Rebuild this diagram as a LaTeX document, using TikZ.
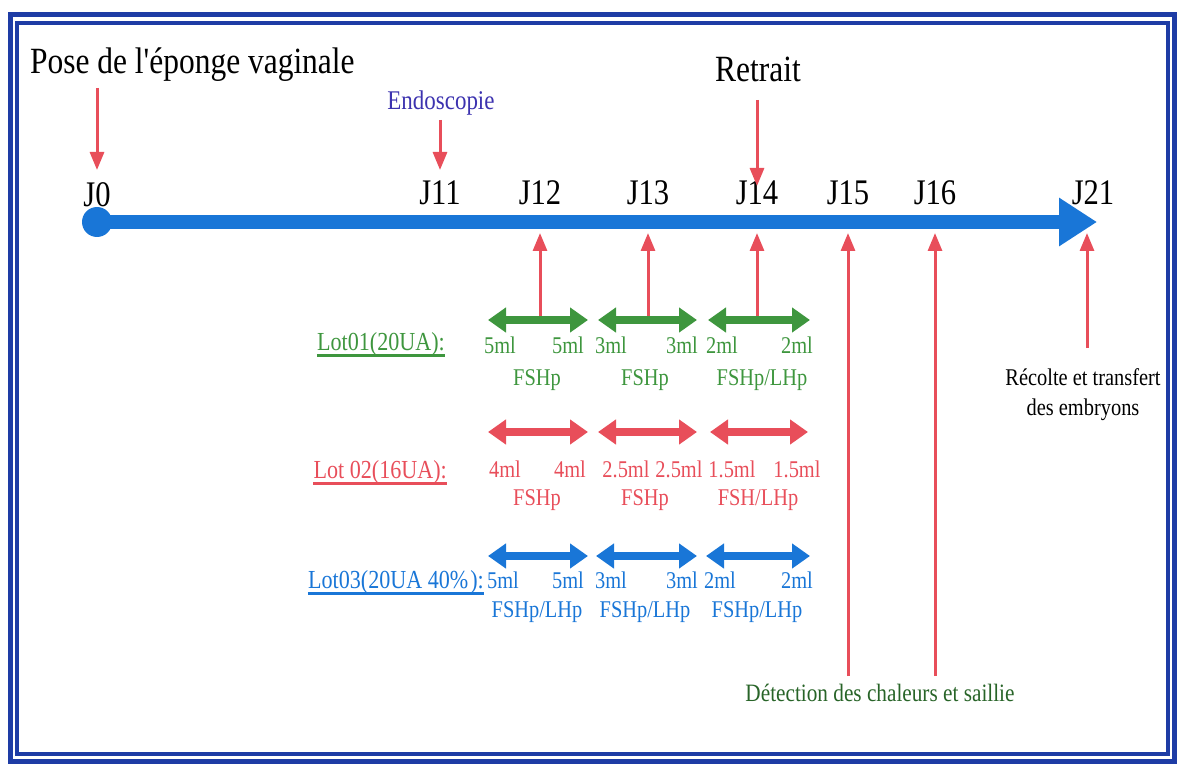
\documentclass[tikz,border=0pt]{standalone}
\usepackage{fontspec}
\setmainfont{Liberation Serif}
\newfontfamily\cf[FakeStretch=0.85]{Liberation Serif}
\usetikzlibrary{arrows.meta}
\definecolor{framec}{RGB}{30,60,165}
\definecolor{tl}{RGB}{25,118,215}
\definecolor{rd}{RGB}{232,78,90}
\definecolor{gr}{RGB}{62,150,62}
\definecolor{dgr}{RGB}{40,100,40}
\definecolor{endc}{RGB}{60,50,175}
\begin{document}
\begin{tikzpicture}[x=1pt,y=-1pt,
  every node/.style={inner sep=0pt},
  big/.style={font=\cf\fontsize{37}{40}\selectfont},
  jlab/.style={font=\cf\fontsize{36}{40}\selectfont, anchor=base},
  small/.style={font=\cf\fontsize{24}{26}\selectfont, anchor=base},
  lotlab/.style={font=\cf\fontsize{26}{28}\selectfont, anchor=base east},
  redarr/.style={draw=rd, line width=3pt, -{Triangle[length=18pt,width=14pt]}},
  dbl/.style={line width=8pt, {Triangle[length=18pt,width=24pt]}-{Triangle[length=18pt,width=24pt]}},
  uline/.style={line width=3pt}]
\useasboundingbox (0,0) rectangle (1177,767);
% frame
\draw[framec, line width=5pt] (10.5,15) rectangle (1174,761);
\draw[framec, line width=4pt] (17,23) rectangle (1168,754);
% timeline
\coordinate (tstart) at (97,222);
\coordinate (tend) at (1097,222);
\draw[tl, line width=14pt, -{Triangle[length=38pt,width=46pt]}] (tstart) -- (tend);
\fill[tl] (tstart) circle (15);
% day labels
\node[jlab] (j0) at (97,207) {J0};
\node[jlab] (j11) at (440,205) {J11};
\node[jlab] (j12) at (540,205) {J12};
\node[jlab] (j13) at (648,205) {J13};
\node[jlab] (j14) at (757,205) {J14};
\node[jlab] (j15) at (848,205) {J15};
\node[jlab] (j16) at (935,205) {J16};
\node[jlab] (j21) at (1093,205) {J21};
% top labels
\node[big, anchor=base west] (pose) at (30,74) {Pose de l'éponge vaginale};
\node[big, anchor=base] (retrait) at (758,82) {Retrait};
\node[font=\cf\fontsize{27}{30}\selectfont, text=endc, anchor=base] (endo) at (441,110) {Endoscopie};
% down arrows
\coordinate (p0) at (97,88);
\coordinate (p1) at (97,170);
\draw[redarr] (p0) -- (p1);
\coordinate (e0) at (440,120);
\coordinate (e1) at (440,170);
\draw[redarr] (e0) -- (e1);
\coordinate (r0) at (757,100);
\coordinate (r1) at (757,186);
\draw[redarr] (r0) -- (r1);
% up arrows
\foreach \n/\x/\yb in {a/540/316, b/648/316, c/757/316, d/848/676, e/935/676, f/1087/348}{
  \coordinate (u\n0) at (\x,\yb);
  \coordinate (u\n1) at (\x,233);
  \draw[redarr] (u\n0) -- (u\n1);
}
% row 1 green
\foreach \n/\a/\b in {1/488/588, 2/598/697, 3/708/810}{
  \coordinate (ga\n) at (\a,320);
  \coordinate (gb\n) at (\b,320);
  \draw[dbl, draw=gr, fill=gr] (ga\n) -- (gb\n);
}
\node[lotlab, text=gr] (lot1) at (445,350) {Lot01(20UA):};
\draw[gr, uline] ([yshift=-5pt]lot1.base west) -- ([yshift=-5pt]lot1.base east);
\begin{scope}[every node/.append style={small, text=gr}]
\node (g1) at (500,353) {5ml};
\node (g2) at (568,353) {5ml};
\node (g3) at (611,353) {3ml};
\node (g4) at (682,353) {3ml};
\node (g5) at (722,353) {2ml};
\node (g6) at (797,353) {2ml};
\node (g7) at (537,385) {FSHp};
\node (g8) at (645,385) {FSHp};
\node (g9) at (762,385) {FSHp/LHp};
\end{scope}
% row 2 red
\foreach \n/\a/\b in {1/488/588, 2/598/697, 3/710/808}{
  \coordinate (ra\n) at (\a,432);
  \coordinate (rb\n) at (\b,432);
  \draw[dbl, draw=rd, fill=rd] (ra\n) -- (rb\n);
}
\node[lotlab, text=rd] (lot2) at (447,478) {Lot 02(16UA):};
\draw[rd, uline] ([yshift=-5pt]lot2.base west) -- ([yshift=-5pt]lot2.base east);
\begin{scope}[every node/.append style={small, text=rd}]
\node (r1) at (505,477) {4ml};
\node (r2) at (570,477) {4ml};
\node (r3) at (626,477) {2.5ml};
\node (r4) at (679,477) {2.5ml};
\node (r5) at (732,477) {1.5ml};
\node (r6) at (797,477) {1.5ml};
\node (r7) at (537,505) {FSHp};
\node (r8) at (645,505) {FSHp};
\node (r9) at (758,505) {FSH/LHp};
\end{scope}
% row 3 blue
\foreach \n/\a/\b in {1/488/588, 2/596/697, 3/706/810}{
  \coordinate (ba\n) at (\a,556);
  \coordinate (bb\n) at (\b,556);
  \draw[dbl, draw=tl, fill=tl] (ba\n) -- (bb\n);
}
\node[lotlab, text=tl] (lot3) at (484,588) {Lot03(20UA 40\%\hspace{2pt}):};
\draw[tl, uline] ([yshift=-5pt]lot3.base west) -- ([yshift=-5pt]lot3.base east);
\begin{scope}[every node/.append style={small, text=tl}]
\node (b1) at (503,588) {5ml};
\node (b2) at (568,588) {5ml};
\node (b3) at (611,588) {3ml};
\node (b4) at (682,588) {3ml};
\node (b5) at (720,588) {2ml};
\node (b6) at (797,588) {2ml};
\node (b7) at (537,617) {FSHp/LHp};
\node (b8) at (645,617) {FSHp/LHp};
\node (b9) at (757,617) {FSHp/LHp};
\end{scope}
% bottom / right texts
\node[font=\cf\fontsize{24}{30}\selectfont, align=center, anchor=north] (recolte) at (1083,368) {Récolte et transfert\\des embryons};
\node[font=\cf\fontsize{25}{28}\selectfont, text=dgr, anchor=base] (detect) at (880,701) {Détection des chaleurs et saillie};
\end{tikzpicture}
\end{document}
